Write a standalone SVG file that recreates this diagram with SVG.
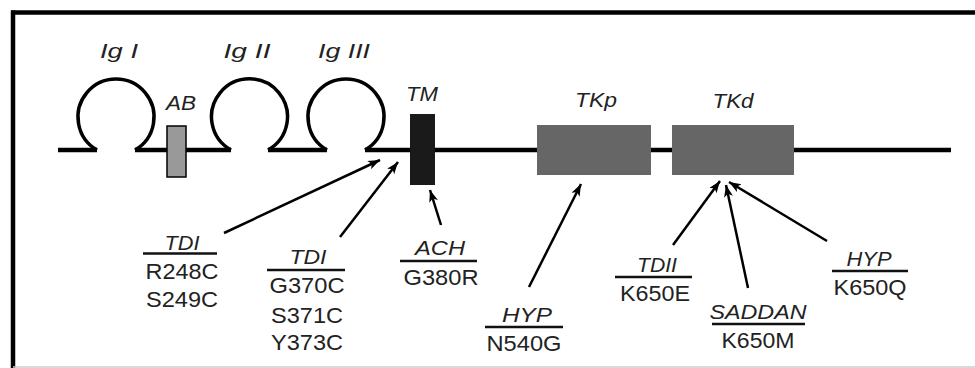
<svg xmlns="http://www.w3.org/2000/svg" width="975" height="368" viewBox="0 0 975 368">
<defs>
<style>
.lbl{font-family:"Liberation Sans",Arial,sans-serif;font-style:italic;font-size:20px;fill:#222;text-anchor:middle}
.mut{font-family:"Liberation Sans",Arial,sans-serif;font-size:21.5px;fill:#222;text-anchor:middle}
.ul{stroke:#111;stroke-width:2.5}
.bb{fill:none;stroke:#000;stroke-width:4.5}
.loop{fill:none;stroke:#000;stroke-width:3.5}
.arr{stroke:#000;stroke-width:2.5;fill:none;marker-end:url(#ah)}
</style>
<marker id="ah" markerUnits="userSpaceOnUse" markerWidth="14" markerHeight="10" refX="12" refY="4.5" orient="auto" viewBox="0 0 14 10">
<path d="M0,0 L12,4.5 L0,9 L3,4.5 z" fill="#000"/>
</marker>
</defs>
<rect width="975" height="368" fill="#fff"/>
<g id="frame">
<line x1="11" y1="12.5" x2="975" y2="12.5" stroke="#000" stroke-width="4.5"/>
<line x1="13" y1="10.5" x2="13" y2="368" stroke="#000" stroke-width="4.5"/>
<line x1="13" y1="367" x2="975" y2="367" stroke="#ccc" stroke-width="1.5"/>
</g>
<g id="backbone">
<path class="bb" d="M58,150 H97 M135,150 H231 M268,150 H327 M365,150 H951"/>
</g>
<g id="igI">
<path class="loop" d="M97,150 A38,38 0 1 1 135,150"/>
<text class="lbl" x="119" y="58" font-size="22" textLength="38" lengthAdjust="spacingAndGlyphs">Ig I</text>
</g>
<g id="ab">
<rect x="167" y="126" width="19" height="51" fill="#999" stroke="#000" stroke-width="1.5"/>
<text class="lbl" x="181" y="110" font-size="17" textLength="30" lengthAdjust="spacingAndGlyphs">AB</text>
</g>
<g id="igII">
<path class="loop" d="M231,150 A38,38 0 1 1 268,150"/>
<text class="lbl" x="247" y="58" font-size="22" textLength="47" lengthAdjust="spacingAndGlyphs">Ig II</text>
</g>
<g id="igIII">
<path class="loop" d="M327,150 A38,38 0 1 1 365,150"/>
<text class="lbl" x="344" y="58" font-size="22" textLength="52" lengthAdjust="spacingAndGlyphs">Ig III</text>
</g>
<g id="tm">
<rect x="410" y="114" width="25" height="71" fill="#1a1a1a"/>
<text class="lbl" x="422" y="101" font-size="18" textLength="32" lengthAdjust="spacingAndGlyphs">TM</text>
</g>
<g id="tkp">
<rect x="537" y="125" width="114" height="50" fill="#666"/>
<text class="lbl" x="596" y="107" font-size="19" textLength="42" lengthAdjust="spacingAndGlyphs">TKp</text>
</g>
<g id="tkd">
<rect x="672" y="125" width="122" height="50" fill="#666"/>
<text class="lbl" x="733" y="108" font-size="19" textLength="41" lengthAdjust="spacingAndGlyphs">TKd</text>
</g>
<g id="connectors">
<line class="arr" x1="224" y1="233" x2="380" y2="160"/>
<line class="arr" x1="340" y1="237" x2="398" y2="162"/>
<line class="arr" x1="441" y1="225" x2="430" y2="190"/>
<line class="arr" x1="529" y1="287" x2="581" y2="184"/>
<line class="arr" x1="673" y1="245" x2="720" y2="181"/>
<line class="arr" x1="748" y1="288" x2="726" y2="185"/>
<line class="arr" x1="827" y1="241" x2="729" y2="182"/>
</g>
<g id="m-tdi1">
<text class="lbl" x="182" y="250" textLength="35" lengthAdjust="spacingAndGlyphs">TDI</text>
<line class="ul" x1="143" y1="253.5" x2="217" y2="253.5"/>
<text class="mut" x="182" y="279" textLength="73" lengthAdjust="spacingAndGlyphs">R248C</text>
<text class="mut" x="182" y="307" textLength="72" lengthAdjust="spacingAndGlyphs">S249C</text>
</g>
<g id="m-tdi2">
<text class="lbl" x="308" y="264" textLength="37" lengthAdjust="spacingAndGlyphs">TDI</text>
<line class="ul" x1="267" y1="270" x2="345" y2="270"/>
<text class="mut" x="307" y="293" textLength="75" lengthAdjust="spacingAndGlyphs">G370C</text>
<text class="mut" x="307" y="323" textLength="72" lengthAdjust="spacingAndGlyphs">S371C</text>
<text class="mut" x="307" y="350" textLength="72" lengthAdjust="spacingAndGlyphs">Y373C</text>
</g>
<g id="m-ach">
<text class="lbl" x="440" y="255" textLength="50" lengthAdjust="spacingAndGlyphs">ACH</text>
<line class="ul" x1="400" y1="261" x2="477" y2="261"/>
<text class="mut" x="441" y="285" textLength="75" lengthAdjust="spacingAndGlyphs">G380R</text>
</g>
<g id="m-hyp1">
<text class="lbl" x="527" y="322" textLength="50" lengthAdjust="spacingAndGlyphs">HYP</text>
<line class="ul" x1="485" y1="327" x2="563" y2="327"/>
<text class="mut" x="524" y="351" textLength="75" lengthAdjust="spacingAndGlyphs">N540G</text>
</g>
<g id="m-tdii">
<text class="lbl" x="657" y="272" textLength="40" lengthAdjust="spacingAndGlyphs">TDII</text>
<line class="ul" x1="615" y1="277" x2="692" y2="277"/>
<text class="mut" x="655" y="301" textLength="70" lengthAdjust="spacingAndGlyphs">K650E</text>
</g>
<g id="m-saddan">
<text class="lbl" x="758" y="319" textLength="97" lengthAdjust="spacingAndGlyphs">SADDAN</text>
<line class="ul" x1="712" y1="324" x2="805" y2="324"/>
<text class="mut" x="758" y="348" textLength="73" lengthAdjust="spacingAndGlyphs">K650M</text>
</g>
<g id="m-hyp2">
<text class="lbl" x="869" y="266" textLength="45" lengthAdjust="spacingAndGlyphs">HYP</text>
<line class="ul" x1="832" y1="271" x2="908" y2="271"/>
<text class="mut" x="870" y="295" textLength="73" lengthAdjust="spacingAndGlyphs">K650Q</text>
</g>
</svg>
